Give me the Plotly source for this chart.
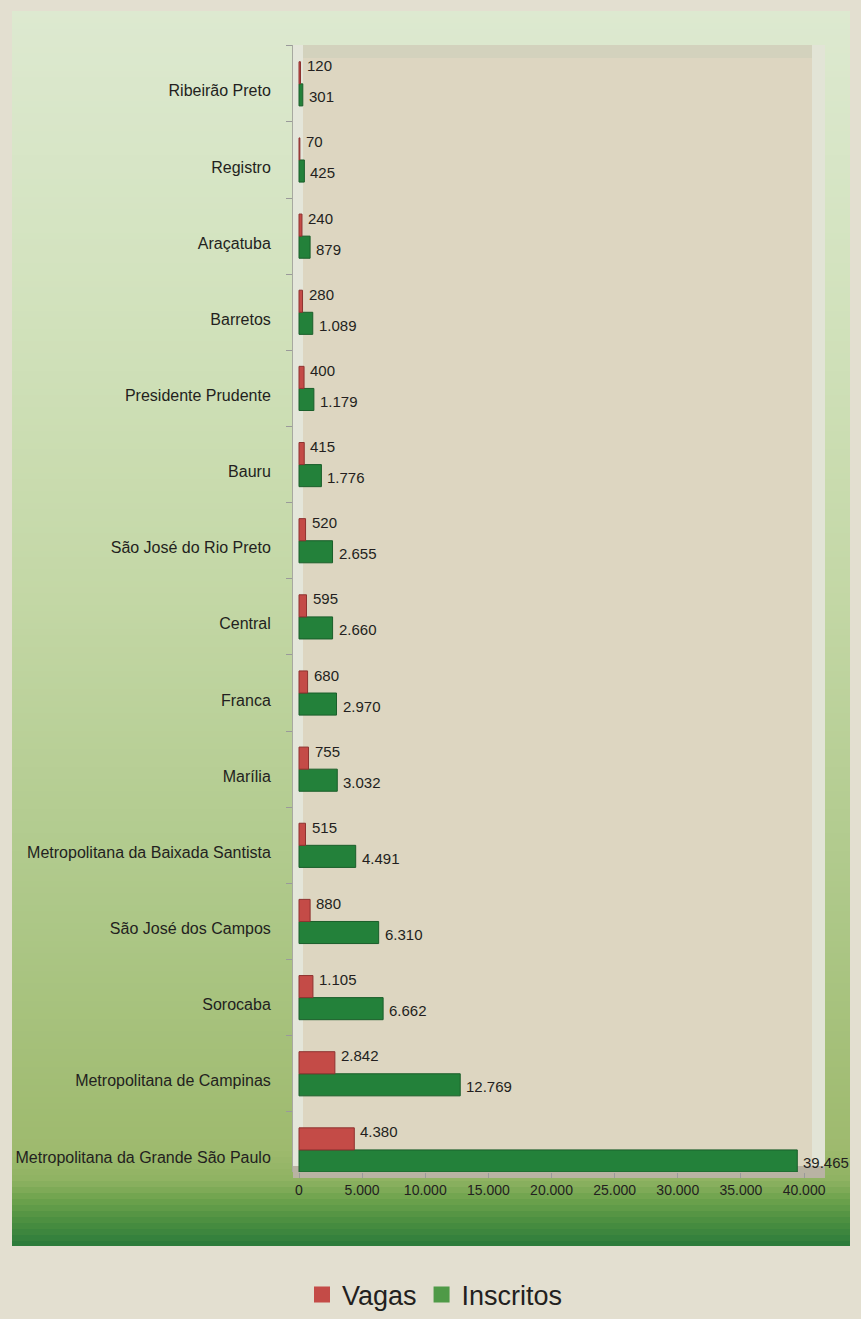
import plotly.graph_objects as go

# ── Data (top of chart first) ────────────────────────────────────────────────
regioes = [
    "Ribeirão Preto", "Registro", "Araçatuba", "Barretos", "Presidente Prudente",
    "Bauru", "São José do Rio Preto", "Central", "Franca", "Marília",
    "Metropolitana da Baixada Santista", "São José dos Campos", "Sorocaba",
    "Metropolitana de Campinas", "Metropolitana da Grande São Paulo",
]
vagas = [120, 70, 240, 280, 400, 415, 520, 595, 680, 755, 515, 880, 1105, 2842, 4380]
inscritos = [301, 425, 879, 1089, 1179, 1776, 2655, 2660, 2970, 3032, 4491, 6310, 6662, 12769, 39465]

x_ticks = [0, 5000, 10000, 15000, 20000, 25000, 30000, 35000, 40000]

# ── Page geometry ────────────────────────────────────────────────────────────
W, H = 861, 1319
L, R, T, B = 293, 36, 45, 147
PW, PH = W - L - R, H - T - B

_FONT = "Liberation Sans, Arial, sans-serif"
_INK = "#231f20"
RED = "#c44b47"
GREEN = "#23813a"


def px_x(p):
    return (p - L) / PW


def px_y(p):
    return 1 - (p - T) / PH


def _hex(c):
    c = c.lstrip("#")
    return [int(c[i:i + 2], 16) for i in (0, 2, 4)]


# green panel gradient stops (pixel y, colour)
_stops = [
    (11, "#dde9d0"), (300, "#d2e2bd"), (600, "#c3d7a5"), (900, "#aec889"),
    (1150, "#9eba6e"), (1180, "#8fb262"), (1200, "#6ca24c"), (1222, "#4a8e40"),
    (1246, "#2a7a3b"),
]


def _color_at(y):
    for (y0, c0), (y1, c1) in zip(_stops, _stops[1:]):
        if y0 <= y <= y1:
            t = (y - y0) / (y1 - y0)
            a, b = _hex(c0), _hex(c1)
            return "rgb(%d,%d,%d)" % tuple(round(a[i] + (b[i] - a[i]) * t) for i in range(3))
    return _stops[-1][1]


shapes = []
step = 6
for y in range(11, 1246, step):
    shapes.append(dict(
        type="rect", xref="paper", yref="paper", layer="below",
        x0=px_x(12), x1=px_x(850), y0=px_y(min(y + step + 1, 1246)), y1=px_y(y),
        fillcolor=_color_at(y + step / 2), line=dict(width=0),
    ))

# plot floor / walls (pseudo 3D frame)
shapes += [
    dict(type="rect", xref="paper", yref="paper", layer="below",
         x0=px_x(293), x1=px_x(825), y0=px_y(1172), y1=px_y(45),
         fillcolor="#ddd6c1", line=dict(width=0)),
    dict(type="rect", xref="paper", yref="paper", layer="below",
         x0=px_x(293), x1=px_x(303), y0=px_y(1172), y1=px_y(45),
         fillcolor="#e4e6da", line=dict(width=0)),
    dict(type="rect", xref="paper", yref="paper", layer="below",
         x0=px_x(303), x1=px_x(825), y0=px_y(58), y1=px_y(45),
         fillcolor="#d3d2bd", line=dict(width=0)),
    dict(type="rect", xref="paper", yref="paper", layer="below",
         x0=px_x(812), x1=px_x(825), y0=px_y(1172), y1=px_y(45),
         fillcolor="#e2e4d6", line=dict(width=0)),
    dict(type="rect", xref="paper", yref="paper", layer="below",
         x0=px_x(293), x1=px_x(825), y0=px_y(1178), y1=px_y(1166),
         fillcolor="#b9b3a3", line=dict(width=0)),
]

fig = go.Figure()

# Inscritos first so that it sits below Vagas in each group
fig.add_trace(go.Bar(
    y=regioes, x=inscritos, orientation="h", name="Inscritos",
    marker=dict(color=GREEN, line=dict(color="#1a5e2a", width=1)),
    showlegend=False,
))
fig.add_trace(go.Bar(
    y=regioes, x=vagas, orientation="h", name="Vagas",
    marker=dict(color=RED, line=dict(color="#8e3330", width=1)),
    showlegend=False,
))

# legend markers
fig.add_trace(go.Scatter(
    x=[None], y=[None], mode="markers", name="Vagas",
    marker=dict(symbol="square", size=18, color=RED),
))
fig.add_trace(go.Scatter(
    x=[None], y=[None], mode="markers", name="Inscritos",
    marker=dict(symbol="square", size=18, color="#4f9a47"),
))


def fmt(v):
    return f"{v:,}".replace(",", ".")


annotations = []
for reg, v, i in zip(regioes, vagas, inscritos):
    annotations.append(dict(
        x=v, y=reg, xref="x", yref="y", text=fmt(v), showarrow=False,
        xanchor="left", xshift=4, yshift=18,
        font=dict(family=_FONT, size=15, color=_INK),
    ))
    annotations.append(dict(
        x=i, y=reg, xref="x", yref="y", text=fmt(i), showarrow=False,
        xanchor="left", xshift=4, yshift=-13,
        font=dict(family=_FONT, size=15, color=_INK),
    ))

order = regioes[::-1]

fig.update_layout(
    width=W, height=H,
    paper_bgcolor="#e3dfd0",
    plot_bgcolor="rgba(0,0,0,0)",
    margin=dict(l=L, r=R, t=T, b=B, pad=0, autoexpand=False),
    barmode="group", bargap=0.42, bargroupgap=0,
    separators=",.",
    font=dict(family=_FONT, size=16, color=_INK),
    shapes=shapes,
    annotations=annotations,
    xaxis=dict(
        range=[-475, 41660], tickvals=x_ticks, tickformat=",d",
        showgrid=False, zeroline=False, showline=False,
        ticks="outside", ticklen=5, tickcolor="#9a9a9a",
        tickfont=dict(family=_FONT, size=14, color=_INK),
        automargin=False,
    ),
    yaxis=dict(
        categoryorder="array", categoryarray=order,
        range=[-0.29, 14.51],
        showgrid=False, zeroline=False,
        showline=True, linecolor="#a7a9a0", linewidth=1,
        ticks="outside", ticklen=6, tickcolor="#9a9a9a",
        tickson="boundaries", ticklabelstandoff=18, ticklabelshift=7,
        tickfont=dict(family=_FONT, size=16, color=_INK),
        automargin=False,
    ),
    legend=dict(
        orientation="h", x=px_x(435), xanchor="center",
        y=px_y(1295), yanchor="middle",
        font=dict(family=_FONT, size=27, color=_INK),
        bgcolor="rgba(0,0,0,0)",
    ),
)

fig.write_html(
    "out.html",
    config={"displayModeBar": False},
    post_script="document.body.style.margin='0';",
)
